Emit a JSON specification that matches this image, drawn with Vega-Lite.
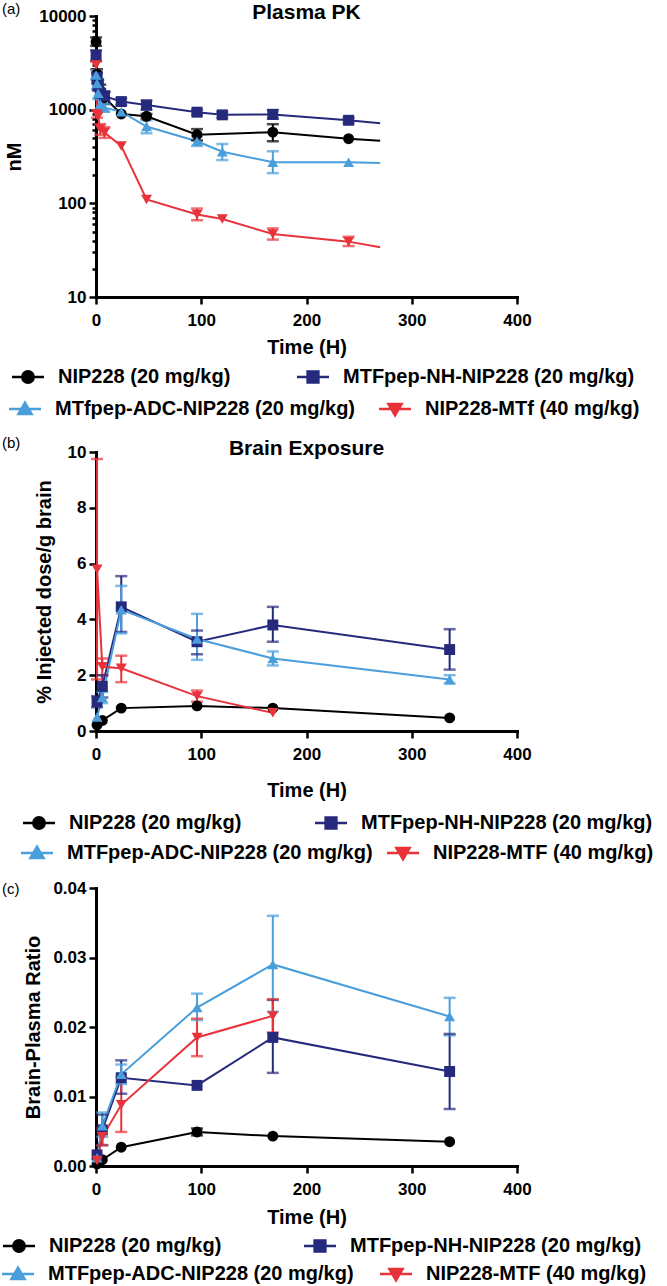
{
  "$schema": "https://vega.github.io/schema/vega-lite/v6.json",
  "background": "white",
  "padding": {"left": 2, "top": 1, "right": 3, "bottom": 6},
  "config": {
    "font": "Liberation Sans",
    "view": {"stroke": null},
    "axis": {
      "grid": false, "domainColor": "black", "domainWidth": 3, "domainCap": "square",
      "tickColor": "black", "tickWidth": 2.5, "tickSize": 7,
      "labelFont": "Liberation Sans", "labelFontWeight": "bold", "labelFontSize": 17, "labelColor": "black",
      "labelPadding": 3, "labelFlush": false, "labelOverlap": false,
      "titleFont": "Liberation Sans", "titleFontWeight": "bold", "titleFontSize": 20, "titleColor": "black"
    },
    "axisX": {"labelPadding": 8},
    "title": {"font": "Liberation Sans", "fontWeight": "bold", "fontSize": 21, "color": "black", "baseline": "bottom"},
    "legend": {
      "labelFont": "Liberation Sans", "labelFontWeight": "bold", "labelFontSize": 20, "labelColor": "black",
      "padding": 0, "symbolSize": 144, "symbolStrokeWidth": 2.5, "labelOffset": 20, "labelLimit": 0,
      "orient": "none", "title": null, "symbolOpacity": 1
    }
  },
  "datasets": {
    "pk": [
      {"s": "NIP228 (20 mg/kg)", "t": 0.083, "v": 5300, "lo": 4800, "hi": 5900},
      {"s": "NIP228 (20 mg/kg)", "t": 1, "v": 2400, "lo": 2100, "hi": 2700},
      {"s": "NIP228 (20 mg/kg)", "t": 2, "v": 1900, "lo": 1700, "hi": 2100},
      {"s": "NIP228 (20 mg/kg)", "t": 4, "v": 1600, "lo": 1350, "hi": 1850},
      {"s": "NIP228 (20 mg/kg)", "t": 8, "v": 1350, "lo": 1150, "hi": 1550},
      {"s": "NIP228 (20 mg/kg)", "t": 24, "v": 900},
      {"s": "NIP228 (20 mg/kg)", "t": 48, "v": 850, "lo": 800, "hi": 900},
      {"s": "NIP228 (20 mg/kg)", "t": 96, "v": 540, "lo": 470, "hi": 620},
      {"s": "NIP228 (20 mg/kg)", "t": 168, "v": 575, "lo": 460, "hi": 700},
      {"s": "NIP228 (20 mg/kg)", "t": 240, "v": 490},
      {"s": "MTFpep-NH-NIP228 (20 mg/kg)", "t": 0.083, "v": 3800, "lo": 3300, "hi": 4300},
      {"s": "MTFpep-NH-NIP228 (20 mg/kg)", "t": 1, "v": 2200, "lo": 1900, "hi": 2500},
      {"s": "MTFpep-NH-NIP228 (20 mg/kg)", "t": 2, "v": 1800, "lo": 1600, "hi": 2050},
      {"s": "MTFpep-NH-NIP228 (20 mg/kg)", "t": 4, "v": 1500, "lo": 1350, "hi": 1650},
      {"s": "MTFpep-NH-NIP228 (20 mg/kg)", "t": 8, "v": 1400, "lo": 1250, "hi": 1550},
      {"s": "MTFpep-NH-NIP228 (20 mg/kg)", "t": 24, "v": 1220, "lo": 1120, "hi": 1320},
      {"s": "MTFpep-NH-NIP228 (20 mg/kg)", "t": 48, "v": 1120, "lo": 1000, "hi": 1250},
      {"s": "MTFpep-NH-NIP228 (20 mg/kg)", "t": 96, "v": 940, "lo": 880, "hi": 1000},
      {"s": "MTFpep-NH-NIP228 (20 mg/kg)", "t": 120, "v": 880, "lo": 820, "hi": 950},
      {"s": "MTFpep-NH-NIP228 (20 mg/kg)", "t": 168, "v": 890, "lo": 800, "hi": 990},
      {"s": "MTFpep-NH-NIP228 (20 mg/kg)", "t": 240, "v": 770, "lo": 720, "hi": 820},
      {"s": "MTfpep-ADC-NIP228 (20 mg/kg)", "t": 0.083, "v": 2350, "lo": 2100, "hi": 2650},
      {"s": "MTfpep-ADC-NIP228 (20 mg/kg)", "t": 1, "v": 1900, "lo": 1650, "hi": 2150},
      {"s": "MTfpep-ADC-NIP228 (20 mg/kg)", "t": 2, "v": 1500, "lo": 1300, "hi": 1700},
      {"s": "MTfpep-ADC-NIP228 (20 mg/kg)", "t": 4, "v": 1150, "lo": 1000, "hi": 1300},
      {"s": "MTfpep-ADC-NIP228 (20 mg/kg)", "t": 8, "v": 1050, "lo": 950, "hi": 1150},
      {"s": "MTfpep-ADC-NIP228 (20 mg/kg)", "t": 24, "v": 950},
      {"s": "MTfpep-ADC-NIP228 (20 mg/kg)", "t": 48, "v": 660, "lo": 560, "hi": 770},
      {"s": "MTfpep-ADC-NIP228 (20 mg/kg)", "t": 96, "v": 460, "lo": 410, "hi": 520},
      {"s": "MTfpep-ADC-NIP228 (20 mg/kg)", "t": 120, "v": 355, "lo": 290, "hi": 430},
      {"s": "MTfpep-ADC-NIP228 (20 mg/kg)", "t": 168, "v": 275, "lo": 210, "hi": 360},
      {"s": "MTfpep-ADC-NIP228 (20 mg/kg)", "t": 240, "v": 275},
      {"s": "NIP228-MTf (40 mg/kg)", "t": 0.083, "v": 3000, "lo": 2700, "hi": 3300},
      {"s": "NIP228-MTf (40 mg/kg)", "t": 1, "v": 900, "lo": 820, "hi": 980},
      {"s": "NIP228-MTf (40 mg/kg)", "t": 2, "v": 850},
      {"s": "NIP228-MTf (40 mg/kg)", "t": 4, "v": 620, "lo": 540, "hi": 700},
      {"s": "NIP228-MTf (40 mg/kg)", "t": 8, "v": 570, "lo": 500, "hi": 650},
      {"s": "NIP228-MTf (40 mg/kg)", "t": 24, "v": 410},
      {"s": "NIP228-MTf (40 mg/kg)", "t": 48, "v": 110},
      {"s": "NIP228-MTf (40 mg/kg)", "t": 96, "v": 76, "lo": 66, "hi": 88},
      {"s": "NIP228-MTf (40 mg/kg)", "t": 120, "v": 68},
      {"s": "NIP228-MTf (40 mg/kg)", "t": 168, "v": 47, "lo": 41, "hi": 54},
      {"s": "NIP228-MTf (40 mg/kg)", "t": 240, "v": 39, "lo": 35, "hi": 44}
    ],
    "pkcurve": [
      {"s": "NIP228 (20 mg/kg)", "t": 0.083, "v": 5300},
      {"s": "NIP228 (20 mg/kg)", "t": 1, "v": 2400},
      {"s": "NIP228 (20 mg/kg)", "t": 2, "v": 1900},
      {"s": "NIP228 (20 mg/kg)", "t": 4, "v": 1600},
      {"s": "NIP228 (20 mg/kg)", "t": 8, "v": 1350},
      {"s": "NIP228 (20 mg/kg)", "t": 24, "v": 900},
      {"s": "NIP228 (20 mg/kg)", "t": 48, "v": 850},
      {"s": "NIP228 (20 mg/kg)", "t": 96, "v": 540},
      {"s": "NIP228 (20 mg/kg)", "t": 168, "v": 575},
      {"s": "NIP228 (20 mg/kg)", "t": 240, "v": 490},
      {"s": "NIP228 (20 mg/kg)", "t": 270, "v": 465},
      {"s": "MTFpep-NH-NIP228 (20 mg/kg)", "t": 0.083, "v": 3800},
      {"s": "MTFpep-NH-NIP228 (20 mg/kg)", "t": 1, "v": 2200},
      {"s": "MTFpep-NH-NIP228 (20 mg/kg)", "t": 2, "v": 1800},
      {"s": "MTFpep-NH-NIP228 (20 mg/kg)", "t": 4, "v": 1500},
      {"s": "MTFpep-NH-NIP228 (20 mg/kg)", "t": 8, "v": 1400},
      {"s": "MTFpep-NH-NIP228 (20 mg/kg)", "t": 24, "v": 1220},
      {"s": "MTFpep-NH-NIP228 (20 mg/kg)", "t": 48, "v": 1120},
      {"s": "MTFpep-NH-NIP228 (20 mg/kg)", "t": 96, "v": 940},
      {"s": "MTFpep-NH-NIP228 (20 mg/kg)", "t": 120, "v": 880},
      {"s": "MTFpep-NH-NIP228 (20 mg/kg)", "t": 168, "v": 890},
      {"s": "MTFpep-NH-NIP228 (20 mg/kg)", "t": 240, "v": 770},
      {"s": "MTFpep-NH-NIP228 (20 mg/kg)", "t": 270, "v": 715},
      {"s": "MTfpep-ADC-NIP228 (20 mg/kg)", "t": 0.083, "v": 2350},
      {"s": "MTfpep-ADC-NIP228 (20 mg/kg)", "t": 1, "v": 1900},
      {"s": "MTfpep-ADC-NIP228 (20 mg/kg)", "t": 2, "v": 1500},
      {"s": "MTfpep-ADC-NIP228 (20 mg/kg)", "t": 4, "v": 1150},
      {"s": "MTfpep-ADC-NIP228 (20 mg/kg)", "t": 8, "v": 1050},
      {"s": "MTfpep-ADC-NIP228 (20 mg/kg)", "t": 24, "v": 950},
      {"s": "MTfpep-ADC-NIP228 (20 mg/kg)", "t": 48, "v": 660},
      {"s": "MTfpep-ADC-NIP228 (20 mg/kg)", "t": 96, "v": 460},
      {"s": "MTfpep-ADC-NIP228 (20 mg/kg)", "t": 120, "v": 355},
      {"s": "MTfpep-ADC-NIP228 (20 mg/kg)", "t": 168, "v": 275},
      {"s": "MTfpep-ADC-NIP228 (20 mg/kg)", "t": 240, "v": 275},
      {"s": "MTfpep-ADC-NIP228 (20 mg/kg)", "t": 270, "v": 270},
      {"s": "NIP228-MTf (40 mg/kg)", "t": 0.083, "v": 3000},
      {"s": "NIP228-MTf (40 mg/kg)", "t": 1, "v": 900},
      {"s": "NIP228-MTf (40 mg/kg)", "t": 2, "v": 850},
      {"s": "NIP228-MTf (40 mg/kg)", "t": 4, "v": 620},
      {"s": "NIP228-MTf (40 mg/kg)", "t": 8, "v": 570},
      {"s": "NIP228-MTf (40 mg/kg)", "t": 24, "v": 410},
      {"s": "NIP228-MTf (40 mg/kg)", "t": 48, "v": 110},
      {"s": "NIP228-MTf (40 mg/kg)", "t": 96, "v": 76},
      {"s": "NIP228-MTf (40 mg/kg)", "t": 120, "v": 68},
      {"s": "NIP228-MTf (40 mg/kg)", "t": 168, "v": 47},
      {"s": "NIP228-MTf (40 mg/kg)", "t": 240, "v": 39},
      {"s": "NIP228-MTf (40 mg/kg)", "t": 270, "v": 34}
    ],
    "brain": [
      {"s": "NIP228 (20 mg/kg)", "t": 1, "v": 0.22},
      {"s": "NIP228 (20 mg/kg)", "t": 6, "v": 0.38},
      {"s": "NIP228 (20 mg/kg)", "t": 24, "v": 0.82},
      {"s": "NIP228 (20 mg/kg)", "t": 96, "v": 0.9},
      {"s": "NIP228 (20 mg/kg)", "t": 168, "v": 0.82},
      {"s": "NIP228 (20 mg/kg)", "t": 336, "v": 0.47},
      {"s": "MTFpep-NH-NIP228 (20 mg/kg)", "t": 1, "v": 1.05, "lo": 0.85, "hi": 1.25},
      {"s": "MTFpep-NH-NIP228 (20 mg/kg)", "t": 6, "v": 1.6, "lo": 1.2, "hi": 2.0},
      {"s": "MTFpep-NH-NIP228 (20 mg/kg)", "t": 24, "v": 4.45, "lo": 3.55, "hi": 5.55},
      {"s": "MTFpep-NH-NIP228 (20 mg/kg)", "t": 96, "v": 3.2, "lo": 2.75, "hi": 3.6},
      {"s": "MTFpep-NH-NIP228 (20 mg/kg)", "t": 168, "v": 3.8, "lo": 3.2, "hi": 4.45},
      {"s": "MTFpep-NH-NIP228 (20 mg/kg)", "t": 336, "v": 2.92, "lo": 2.2, "hi": 3.65},
      {"s": "MTFpep-ADC-NIP228 (20 mg/kg)", "t": 1, "v": 0.5},
      {"s": "MTFpep-ADC-NIP228 (20 mg/kg)", "t": 6, "v": 1.2, "lo": 1.0, "hi": 1.4},
      {"s": "MTFpep-ADC-NIP228 (20 mg/kg)", "t": 24, "v": 4.35, "lo": 3.5, "hi": 5.2},
      {"s": "MTFpep-ADC-NIP228 (20 mg/kg)", "t": 96, "v": 3.3, "lo": 2.55, "hi": 4.2},
      {"s": "MTFpep-ADC-NIP228 (20 mg/kg)", "t": 168, "v": 2.6, "lo": 2.35, "hi": 2.85},
      {"s": "MTFpep-ADC-NIP228 (20 mg/kg)", "t": 336, "v": 1.85, "lo": 1.7, "hi": 2.0},
      {"s": "NIP228-MTF (40 mg/kg)", "t": 1, "v": 5.8, "lo": 1.85, "hi": 9.75},
      {"s": "NIP228-MTF (40 mg/kg)", "t": 6, "v": 2.3, "lo": 2.0, "hi": 2.6},
      {"s": "NIP228-MTF (40 mg/kg)", "t": 24, "v": 2.25, "lo": 1.75, "hi": 2.7},
      {"s": "NIP228-MTF (40 mg/kg)", "t": 96, "v": 1.25, "lo": 1.05, "hi": 1.45},
      {"s": "NIP228-MTF (40 mg/kg)", "t": 168, "v": 0.65}
    ],
    "ratio": [
      {"s": "NIP228 (20 mg/kg)", "t": 1, "v": 0.0003},
      {"s": "NIP228 (20 mg/kg)", "t": 6, "v": 0.0009},
      {"s": "NIP228 (20 mg/kg)", "t": 24, "v": 0.0027},
      {"s": "NIP228 (20 mg/kg)", "t": 96, "v": 0.0049, "lo": 0.0044, "hi": 0.0054},
      {"s": "NIP228 (20 mg/kg)", "t": 168, "v": 0.0043},
      {"s": "NIP228 (20 mg/kg)", "t": 336, "v": 0.0035},
      {"s": "MTFpep-NH-NIP228 (20 mg/kg)", "t": 1, "v": 0.0016},
      {"s": "MTFpep-NH-NIP228 (20 mg/kg)", "t": 6, "v": 0.0052, "lo": 0.003, "hi": 0.0074},
      {"s": "MTFpep-NH-NIP228 (20 mg/kg)", "t": 24, "v": 0.0127, "lo": 0.0104, "hi": 0.0152},
      {"s": "MTFpep-NH-NIP228 (20 mg/kg)", "t": 96, "v": 0.0116},
      {"s": "MTFpep-NH-NIP228 (20 mg/kg)", "t": 168, "v": 0.0185, "lo": 0.0134, "hi": 0.0239},
      {"s": "MTFpep-NH-NIP228 (20 mg/kg)", "t": 336, "v": 0.0136, "lo": 0.0082, "hi": 0.019},
      {"s": "MTFpep-ADC-NIP228 (20 mg/kg)", "t": 1, "v": 0.0012},
      {"s": "MTFpep-ADC-NIP228 (20 mg/kg)", "t": 6, "v": 0.0058, "lo": 0.0042, "hi": 0.0077},
      {"s": "MTFpep-ADC-NIP228 (20 mg/kg)", "t": 24, "v": 0.0132, "lo": 0.0118, "hi": 0.0146},
      {"s": "MTFpep-ADC-NIP228 (20 mg/kg)", "t": 96, "v": 0.0228, "lo": 0.021, "hi": 0.0248},
      {"s": "MTFpep-ADC-NIP228 (20 mg/kg)", "t": 168, "v": 0.029, "lo": 0.0222, "hi": 0.036},
      {"s": "MTFpep-ADC-NIP228 (20 mg/kg)", "t": 336, "v": 0.0215, "lo": 0.0188, "hi": 0.0242},
      {"s": "NIP228-MTF (40 mg/kg)", "t": 1, "v": 0.0008},
      {"s": "NIP228-MTF (40 mg/kg)", "t": 6, "v": 0.0042, "lo": 0.003, "hi": 0.0054},
      {"s": "NIP228-MTF (40 mg/kg)", "t": 24, "v": 0.0088, "lo": 0.0049, "hi": 0.0127},
      {"s": "NIP228-MTF (40 mg/kg)", "t": 96, "v": 0.0185, "lo": 0.0158, "hi": 0.0212},
      {"s": "NIP228-MTF (40 mg/kg)", "t": 168, "v": 0.0216, "lo": 0.0192, "hi": 0.024}
    ]
  },
  "bounds": "flush",
  "spacing": 436,
  "resolve": {
    "scale": {"color": "independent", "shape": "independent", "opacity": "independent", "size": "independent", "strokeDash": "independent", "strokeWidth": "independent"},
    "legend": {"color": "independent", "shape": "independent", "opacity": "independent", "size": "independent", "strokeDash": "independent", "strokeWidth": "independent"}
  },
  "vconcat": [
    {
      "title": {"text": "(a)", "anchor": "start", "frame": "group", "dx": -94, "offset": -14.5, "fontSize": 15, "fontWeight": "normal"},
      "bounds": "flush",
      "vconcat": [
        {
          "width": 421, "height": 281,
          "title": {"text": "Plasma PK", "anchor": "middle", "frame": "group", "offset": -16},
          "encoding": {
            "x": {"field": "t", "type": "quantitative", "scale": {"domain": [0, 400], "nice": false},
                  "axis": {"title": "Time (H)", "values": [0, 100, 200, 300, 400], "titlePadding": 9}},
            "color": {"field": "s", "type": "nominal", "legend": null,
              "scale": {"domain": ["NIP228 (20 mg/kg)", "MTFpep-NH-NIP228 (20 mg/kg)", "MTfpep-ADC-NIP228 (20 mg/kg)", "NIP228-MTf (40 mg/kg)"],
                        "range": ["#000000", "#252a7c", "#4a9edb", "#e8333b"]}}
          },
          "layer": [
            {"data": {"name": "pkcurve"}, "mark": {"type": "line", "strokeWidth": 2},
             "encoding": {"y": {"field": "v", "type": "quantitative", "scale": {"type": "log", "domain": [10, 10000], "nice": false},
               "axis": {"title": "nM", "titlePadding": 14,
                 "values": [10, 20, 30, 40, 50, 60, 70, 80, 90, 100, 200, 300, 400, 500, 600, 700, 800, 900, 1000, 2000, 3000, 4000, 5000, 6000, 7000, 8000, 9000, 10000],
                 "labelExpr": "(datum.value == 10 || datum.value == 100 || datum.value == 1000 || datum.value == 10000) ? format(datum.value, 'd') : ''",
                 "tickSize": {"condition": {"test": "datum.value == 10 || datum.value == 100 || datum.value == 1000 || datum.value == 10000", "value": 7}, "value": 4}}}}},
            {"data": {"name": "pk"}, "mark": {"type": "rule", "strokeWidth": 2},
             "encoding": {"y": {"field": "lo", "type": "quantitative"}, "y2": {"field": "hi"}}},
            {"data": {"name": "pk"}, "mark": {"type": "tick", "orient": "horizontal", "size": 12, "thickness": 2.5},
             "encoding": {"y": {"field": "lo", "type": "quantitative"}}},
            {"data": {"name": "pk"}, "mark": {"type": "tick", "orient": "horizontal", "size": 12, "thickness": 2.5},
             "encoding": {"y": {"field": "hi", "type": "quantitative"}}},
            {"data": {"name": "pk"}, "mark": {"type": "point", "filled": true, "size": 120},
             "encoding": {"y": {"field": "v", "type": "quantitative"},
               "shape": {"field": "s", "type": "nominal", "legend": null,
                 "scale": {"domain": ["NIP228 (20 mg/kg)", "MTFpep-NH-NIP228 (20 mg/kg)", "MTfpep-ADC-NIP228 (20 mg/kg)", "NIP228-MTf (40 mg/kg)"],
                           "range": ["circle", "square", "triangle-up", "triangle-down"]}},
               "opacity": {"field": "s", "type": "ordinal",
                 "scale": {"domain": ["NIP228 (20 mg/kg)", "NIP228-MTf (40 mg/kg)", "MTFpep-NH-NIP228 (20 mg/kg)", "MTfpep-ADC-NIP228 (20 mg/kg)"], "range": [1, 1]},
                 "legend": {"values": ["NIP228 (20 mg/kg)"], "legendX": -78, "legendY": 351,
                   "symbolType": "M-2.67,0H2.67M-0.95,0A0.95,0.95,0,1,0,0.95,0A0.95,0.95,0,1,0,-0.95,0Z", "symbolFillColor": "#000000", "symbolStrokeColor": "#000000"}},
               "size": {"field": "s", "type": "ordinal",
                 "scale": {"domain": ["MTFpep-NH-NIP228 (20 mg/kg)", "NIP228 (20 mg/kg)", "MTfpep-ADC-NIP228 (20 mg/kg)", "NIP228-MTf (40 mg/kg)"], "range": [120, 120]},
                 "legend": {"values": ["MTFpep-NH-NIP228 (20 mg/kg)"], "legendX": 207, "legendY": 351,
                   "symbolType": "M-2.92,0H2.92M-0.985,-0.985H0.985V0.985H-0.985Z", "symbolFillColor": "#252a7c", "symbolStrokeColor": "#252a7c"}},
               "strokeDash": {"field": "s", "type": "ordinal",
                 "scale": {"domain": ["MTfpep-ADC-NIP228 (20 mg/kg)", "NIP228 (20 mg/kg)", "MTFpep-NH-NIP228 (20 mg/kg)", "NIP228-MTf (40 mg/kg)"], "range": [[1, 0]]},
                 "legend": {"values": ["MTfpep-ADC-NIP228 (20 mg/kg)"], "legendX": -81, "legendY": 383,
                   "symbolType": "M-2.67,0H2.67M0,-1.05L1.1,0.85H-1.1Z", "symbolFillColor": "#4a9edb", "symbolStrokeColor": "#4a9edb"}},
               "strokeWidth": {"field": "s", "type": "ordinal",
                 "scale": {"domain": ["NIP228-MTf (40 mg/kg)", "NIP228 (20 mg/kg)", "MTFpep-NH-NIP228 (20 mg/kg)", "MTfpep-ADC-NIP228 (20 mg/kg)"], "range": [2.5, 2.5]},
                 "legend": {"values": ["NIP228-MTf (40 mg/kg)"], "legendX": 289, "legendY": 383,
                   "symbolType": "M-2.67,0H2.67M0,1.05L1.1,-0.85H-1.1Z", "symbolFillColor": "#e8333b", "symbolStrokeColor": "#e8333b"}}}}
          ]
        }
      ]
    },
    {
      "title": {"text": "(b)", "anchor": "start", "frame": "group", "dx": -94, "offset": -12.5, "fontSize": 15, "fontWeight": "normal"},
      "bounds": "flush",
      "vconcat": [
        {
          "width": 421, "height": 279,
          "title": {"text": "Brain Exposure", "anchor": "middle", "frame": "group", "offset": -16},
          "data": {"name": "brain"},
          "encoding": {
            "x": {"field": "t", "type": "quantitative", "scale": {"domain": [0, 400], "nice": false},
                  "axis": {"title": "Time (H)", "values": [0, 100, 200, 300, 400], "titlePadding": 18}},
            "color": {"field": "s", "type": "nominal", "legend": null,
              "scale": {"domain": ["NIP228 (20 mg/kg)", "MTFpep-NH-NIP228 (20 mg/kg)", "MTFpep-ADC-NIP228 (20 mg/kg)", "NIP228-MTF (40 mg/kg)"],
                        "range": ["#000000", "#252a7c", "#4a9edb", "#e8333b"]}}
          },
          "layer": [
            {"mark": {"type": "line", "strokeWidth": 2},
             "encoding": {"y": {"field": "v", "type": "quantitative", "scale": {"domain": [0, 10], "nice": false},
               "axis": {"title": "% Injected dose/g brain", "titlePadding": 13, "values": [0, 2, 4, 6, 8, 10], "format": "d"}}}},
            {"mark": {"type": "rule", "strokeWidth": 2},
             "encoding": {"y": {"field": "lo", "type": "quantitative"}, "y2": {"field": "hi"}}},
            {"mark": {"type": "tick", "orient": "horizontal", "size": 12, "thickness": 2.5},
             "encoding": {"y": {"field": "lo", "type": "quantitative"}}},
            {"mark": {"type": "tick", "orient": "horizontal", "size": 12, "thickness": 2.5},
             "encoding": {"y": {"field": "hi", "type": "quantitative"}}},
            {"mark": {"type": "point", "filled": true, "size": 120},
             "encoding": {"y": {"field": "v", "type": "quantitative"},
               "shape": {"field": "s", "type": "nominal", "legend": null,
                 "scale": {"domain": ["NIP228 (20 mg/kg)", "MTFpep-NH-NIP228 (20 mg/kg)", "MTFpep-ADC-NIP228 (20 mg/kg)", "NIP228-MTF (40 mg/kg)"],
                           "range": ["circle", "square", "triangle-up", "triangle-down"]}},
               "opacity": {"field": "s", "type": "ordinal",
                 "scale": {"domain": ["NIP228 (20 mg/kg)", "NIP228-MTF (40 mg/kg)", "MTFpep-NH-NIP228 (20 mg/kg)", "MTFpep-ADC-NIP228 (20 mg/kg)"], "range": [1, 1]},
                 "legend": {"values": ["NIP228 (20 mg/kg)"], "legendX": -67, "legendY": 361,
                   "symbolType": "M-2.67,0H2.67M-0.95,0A0.95,0.95,0,1,0,0.95,0A0.95,0.95,0,1,0,-0.95,0Z", "symbolFillColor": "#000000", "symbolStrokeColor": "#000000"}},
               "size": {"field": "s", "type": "ordinal",
                 "scale": {"domain": ["MTFpep-NH-NIP228 (20 mg/kg)", "NIP228 (20 mg/kg)", "MTFpep-ADC-NIP228 (20 mg/kg)", "NIP228-MTF (40 mg/kg)"], "range": [120, 120]},
                 "legend": {"values": ["MTFpep-NH-NIP228 (20 mg/kg)"], "legendX": 225, "legendY": 361,
                   "symbolType": "M-2.92,0H2.92M-0.985,-0.985H0.985V0.985H-0.985Z", "symbolFillColor": "#252a7c", "symbolStrokeColor": "#252a7c"}},
               "strokeDash": {"field": "s", "type": "ordinal",
                 "scale": {"domain": ["MTFpep-ADC-NIP228 (20 mg/kg)", "NIP228 (20 mg/kg)", "MTFpep-NH-NIP228 (20 mg/kg)", "NIP228-MTF (40 mg/kg)"], "range": [[1, 0]]},
                 "legend": {"values": ["MTFpep-ADC-NIP228 (20 mg/kg)"], "legendX": -69, "legendY": 391,
                   "symbolType": "M-2.67,0H2.67M0,-1.05L1.1,0.85H-1.1Z", "symbolFillColor": "#4a9edb", "symbolStrokeColor": "#4a9edb"}},
               "strokeWidth": {"field": "s", "type": "ordinal",
                 "scale": {"domain": ["NIP228-MTF (40 mg/kg)", "NIP228 (20 mg/kg)", "MTFpep-NH-NIP228 (20 mg/kg)", "MTFpep-ADC-NIP228 (20 mg/kg)"], "range": [2.5, 2.5]},
                 "legend": {"values": ["NIP228-MTF (40 mg/kg)"], "legendX": 297, "legendY": 391,
                   "symbolType": "M-2.67,0H2.67M0,1.05L1.1,-0.85H-1.1Z", "symbolFillColor": "#e8333b", "symbolStrokeColor": "#e8333b"}}}}
          ]
        }
      ]
    },
    {
      "title": {"text": "(c)", "anchor": "start", "frame": "group", "dx": -94, "offset": -18, "fontSize": 15, "fontWeight": "normal"},
      "bounds": "flush",
      "vconcat": [
        {
          "width": 421, "height": 278,
          "data": {"name": "ratio"},
          "encoding": {
            "x": {"field": "t", "type": "quantitative", "scale": {"domain": [0, 400], "nice": false},
                  "axis": {"title": "Time (H)", "values": [0, 100, 200, 300, 400], "titlePadding": 10}},
            "color": {"field": "s", "type": "nominal", "legend": null,
              "scale": {"domain": ["NIP228 (20 mg/kg)", "MTFpep-NH-NIP228 (20 mg/kg)", "MTFpep-ADC-NIP228 (20 mg/kg)", "NIP228-MTF (40 mg/kg)"],
                        "range": ["#000000", "#252a7c", "#4a9edb", "#e8333b"]}}
          },
          "layer": [
            {"mark": {"type": "line", "strokeWidth": 2},
             "encoding": {"y": {"field": "v", "type": "quantitative", "scale": {"domain": [0, 0.04], "nice": false},
               "axis": {"title": "Brain-Plasma Ratio", "titlePadding": 9.5, "values": [0, 0.01, 0.02, 0.03, 0.04], "format": ".2f"}}}},
            {"mark": {"type": "rule", "strokeWidth": 2},
             "encoding": {"y": {"field": "lo", "type": "quantitative"}, "y2": {"field": "hi"}}},
            {"mark": {"type": "tick", "orient": "horizontal", "size": 12, "thickness": 2.5},
             "encoding": {"y": {"field": "lo", "type": "quantitative"}}},
            {"mark": {"type": "tick", "orient": "horizontal", "size": 12, "thickness": 2.5},
             "encoding": {"y": {"field": "hi", "type": "quantitative"}}},
            {"mark": {"type": "point", "filled": true, "size": 120},
             "encoding": {"y": {"field": "v", "type": "quantitative"},
               "shape": {"field": "s", "type": "nominal", "legend": null,
                 "scale": {"domain": ["NIP228 (20 mg/kg)", "MTFpep-NH-NIP228 (20 mg/kg)", "MTFpep-ADC-NIP228 (20 mg/kg)", "NIP228-MTF (40 mg/kg)"],
                           "range": ["circle", "square", "triangle-up", "triangle-down"]}},
               "opacity": {"field": "s", "type": "ordinal",
                 "scale": {"domain": ["NIP228 (20 mg/kg)", "NIP228-MTF (40 mg/kg)", "MTFpep-NH-NIP228 (20 mg/kg)", "MTFpep-ADC-NIP228 (20 mg/kg)"], "range": [1, 1]},
                 "legend": {"values": ["NIP228 (20 mg/kg)"], "legendX": -87, "legendY": 348,
                   "symbolType": "M-2.67,0H2.67M-0.95,0A0.95,0.95,0,1,0,0.95,0A0.95,0.95,0,1,0,-0.95,0Z", "symbolFillColor": "#000000", "symbolStrokeColor": "#000000"}},
               "size": {"field": "s", "type": "ordinal",
                 "scale": {"domain": ["MTFpep-NH-NIP228 (20 mg/kg)", "NIP228 (20 mg/kg)", "MTFpep-ADC-NIP228 (20 mg/kg)", "NIP228-MTF (40 mg/kg)"], "range": [120, 120]},
                 "legend": {"values": ["MTFpep-NH-NIP228 (20 mg/kg)"], "legendX": 214, "legendY": 348,
                   "symbolType": "M-2.92,0H2.92M-0.985,-0.985H0.985V0.985H-0.985Z", "symbolFillColor": "#252a7c", "symbolStrokeColor": "#252a7c"}},
               "strokeDash": {"field": "s", "type": "ordinal",
                 "scale": {"domain": ["MTFpep-ADC-NIP228 (20 mg/kg)", "NIP228 (20 mg/kg)", "MTFpep-NH-NIP228 (20 mg/kg)", "NIP228-MTF (40 mg/kg)"], "range": [[1, 0]]},
                 "legend": {"values": ["MTFpep-ADC-NIP228 (20 mg/kg)"], "legendX": -88, "legendY": 376,
                   "symbolType": "M-2.67,0H2.67M0,-1.05L1.1,0.85H-1.1Z", "symbolFillColor": "#4a9edb", "symbolStrokeColor": "#4a9edb"}},
               "strokeWidth": {"field": "s", "type": "ordinal",
                 "scale": {"domain": ["NIP228-MTF (40 mg/kg)", "NIP228 (20 mg/kg)", "MTFpep-NH-NIP228 (20 mg/kg)", "MTFpep-ADC-NIP228 (20 mg/kg)"], "range": [2.5, 2.5]},
                 "legend": {"values": ["NIP228-MTF (40 mg/kg)"], "legendX": 290, "legendY": 376,
                   "symbolType": "M-2.67,0H2.67M0,1.05L1.1,-0.85H-1.1Z", "symbolFillColor": "#e8333b", "symbolStrokeColor": "#e8333b"}}}}
          ]
        }
      ]
    }
  ]
}
